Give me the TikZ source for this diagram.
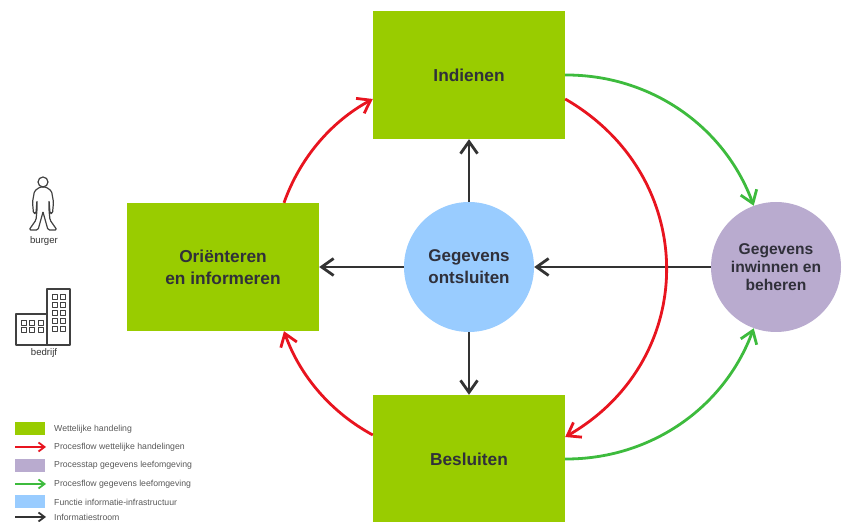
\documentclass[tikz,border=0pt]{standalone}
\usepackage{fontspec}
\setmainfont{Liberation Sans}
\usetikzlibrary{arrows.meta}
\definecolor{handeling}{HTML}{99CC00}
\definecolor{functie}{HTML}{99CCFF}
\definecolor{processtap}{HTML}{B9ABCF}
\definecolor{flowred}{HTML}{E8141F}
\definecolor{flowgreen}{HTML}{3DBB3D}
\definecolor{stroom}{HTML}{333333}
\definecolor{labeltext}{HTML}{30303A}
\tikzstyle{handelingbox}=[fill=handeling, minimum width=192pt, minimum height=128pt,
    text=labeltext, align=center, font=\bfseries\fontsize{17.3}{22}\selectfont]
\tikzstyle{functiebol}=[circle, fill=functie, minimum size=130pt, inner sep=0pt,
    text=labeltext, align=center, font=\bfseries\fontsize{17}{22}\selectfont]
\tikzstyle{stapbol}=[circle, fill=processtap, minimum size=130pt, inner sep=0pt,
    text=labeltext, align=center, font=\bfseries\fontsize{15.6}{18}\selectfont]
\tikzstyle{redflow}=[draw=flowred, line width=2.8pt, -{Straight Barb[length=12pt,width=17pt,line width=2.8pt]}]
\tikzstyle{greenflow}=[draw=flowgreen, line width=2.8pt, -{Straight Barb[length=12pt,width=17pt,line width=2.8pt]}]
\tikzstyle{infoflow}=[draw=stroom, line width=2.8pt, -{Straight Barb[length=12pt,width=17pt,line width=2.8pt]}]
\tikzstyle{legendflow}=[line width=1.8pt, -{Straight Barb[length=6pt,width=9pt,line width=1.8pt]}]
\tikzstyle{legendbox}=[minimum width=30pt, minimum height=13pt, inner sep=0pt]
\tikzstyle{legendtext}=[anchor=west, text=black!65, inner sep=0pt, font=\fontsize{8.7}{10}\selectfont]
\tikzstyle{icontext}=[text=black!80, inner sep=0pt, font=\fontsize{9.6}{11}\selectfont]
\tikzstyle{icon}=[draw=black!75, line width=1.2pt, line join=round]

\begin{document}
\begin{tikzpicture}[x=1pt,y=1pt]
    \useasboundingbox (0,0) rectangle (844,522);
    \node (ontsluiten) [functiebol] at (469,255) {Gegevens\\ontsluiten};
    \path (ontsluiten)+(0,192) node (indienen) [handelingbox] {Indienen};
    \path (ontsluiten)+(0,-192) node (besluiten) [handelingbox] {Besluiten};
    \path (ontsluiten)+(-246,0) node (orienteren) [handelingbox] {Oriënteren\\en informeren};
    \path (ontsluiten)+(307,0) node (inwinnen) [stapbol] {Gegevens\\inwinnen en\\beheren};

    \coordinate (indienenuit) at ([yshift=-24pt]indienen.east);
    \coordinate (indieneninn) at ([yshift=-24pt]indienen.west);
    \coordinate (besluitenin) at ([yshift=22pt]besluiten.east);
    \coordinate (besluitenuit) at ([yshift=24pt]besluiten.west);
    \coordinate (orienterenin) at ([xshift=61pt]orienteren.south);
    \coordinate (orienterenuit) at ([xshift=61pt]orienteren.north);

    % informatiestromen
    \draw [infoflow] (ontsluiten) -- (indienen);
    \draw [infoflow] (ontsluiten) -- (besluiten);
    \draw [infoflow] (ontsluiten) -- (orienteren);
    \draw [infoflow] (inwinnen) -- (ontsluiten);

    % processflows
    \draw [redflow] (orienterenuit) to [bend left=21, looseness=0.89] (indieneninn);
    \draw [redflow] (indienenuit) to [bend left=60, looseness=1.18] (besluitenin);
    \draw [redflow] (besluitenuit) to [bend left=21, looseness=0.89] (orienterenin);
    \draw [greenflow] (indienen.east) to [bend left=35, looseness=0.95] (inwinnen.110);
    \draw [greenflow] (besluiten.east) to [bend right=35, looseness=0.95] (inwinnen.250);

    % burger
    \draw [icon] (43,340) circle (5);
    \foreach \side in {1,-1} {
        \draw [icon, rounded corners=1.5pt, xshift=43pt, xscale=\side]
            (0,335) -- (3,335) -- (8.5,331) -- (10.5,320) -- (9.5,308.5) -- (7,308.5)
            -- (6,322) -- (6,312) -- (7,302) -- (14,292) -- (5,292) -- (0,310);
    }
    \node (burger) [icontext] at (44,281) {burger};

    % bedrijf
    \draw [icon] (16,177) rectangle (47,208);
    \draw [icon] (47,177) rectangle (70,233);
    \foreach \col in {0,1,2} \foreach \row in {0,1}
        \draw [icon, line width=0.9pt] (21+8.5*\col,197-7.5*\row) rectangle +(5,5);
    \foreach \col in {0,1} \foreach \row in {0,...,4}
        \draw [icon, line width=0.9pt] (52+8*\col,223-8*\row) rectangle +(5,5);
    \node (bedrijf) [icontext] at (44,169) {bedrijf};

    % legenda
    \node (boxhandeling) [legendbox, fill=handeling] at (30,93) {};
    \node (txthandeling) [legendtext] at (54,93) {Wettelijke handeling};
    \node (txtflowrood) [legendtext] at (54,75) {Procesflow wettelijke handelingen};
    \coordinate (roodvan) at (15,75);
    \coordinate (roodnaar) at (46,75);
    \draw [legendflow, draw=flowred] (roodvan) -- (roodnaar);
    \node (boxstap) [legendbox, fill=processtap] at (30,56.5) {};
    \node (txtstap) [legendtext] at (54,56.5) {Processtap gegevens leefomgeving};
    \node (txtflowgroen) [legendtext] at (54,38) {Procesflow gegevens leefomgeving};
    \coordinate (groenvan) at (15,38);
    \coordinate (groennaar) at (46,38);
    \draw [legendflow, draw=flowgreen] (groenvan) -- (groennaar);
    \node (boxfunctie) [legendbox, fill=functie] at (30,20) {};
    \node (txtfunctie) [legendtext] at (54,20) {Functie informatie-infrastructuur};
    \node (txtstroom) [legendtext] at (54,5) {Informatiestroom};
    \coordinate (stroomvan) at (15,5);
    \coordinate (stroomnaar) at (46,5);
    \draw [legendflow, draw=stroom] (stroomvan) -- (stroomnaar);
\end{tikzpicture}
\end{document}
